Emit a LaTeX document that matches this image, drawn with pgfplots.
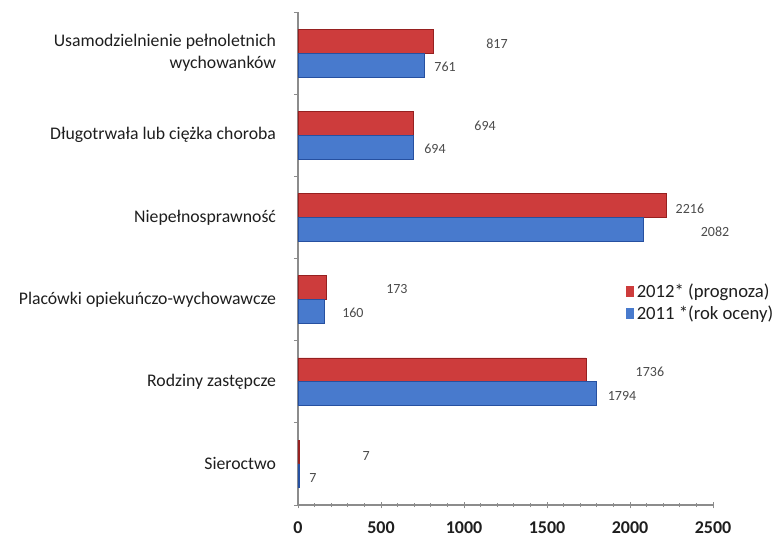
\documentclass[border=0pt]{standalone}
\usepackage{fontspec}
\setmainfont{Carlito}
\usepackage{pgfplots}
\pgfplotsset{compat=1.18}
\definecolor{redmain}{RGB}{205,60,60}
\definecolor{redbot}{RGB}{150,32,32}
\definecolor{bluemain}{RGB}{72,122,205}
\definecolor{bluebot}{RGB}{38,80,160}
\definecolor{txt}{RGB}{30,30,30}
\definecolor{axgray}{RGB}{140,140,140}
\begin{document}
\begin{tikzpicture}
\begin{axis}[
  at={(0,0)}, anchor=south west,
  scale only axis, clip=false,
  width=311.25pt, height=369.75pt,
  xmin=0, xmax=2500,
  ymin=-0.5, ymax=5.5,
  axis x line*=bottom, axis y line*=left,
  axis line style={axgray, line width=0.8pt, -},
  xtick={0,500,1000,1500,2000,2500},
  minor x tick num=4,
  xtick align=center,
  major tick length=5pt, minor tick length=3pt,
  tick style={axgray, line width=0.6pt},
  ytick={0,1,2,3,4,5},
  yticklabels={Sieroctwo, Rodziny zastępcze, Placówki opiekuńczo-wychowawcze, Niepełnosprawność, Długotrwała lub ciężka choroba, {Usamodzielnienie pełnoletnich\\wychowanków}},
  minor ytick={-0.5,0.5,1.5,2.5,3.5,4.5,5.5},
  ytick style={draw=none},
  minor y tick style={draw=axgray},
  ytick align=outside,
  yticklabel style={align=right, font=\fontsize{13.3}{16.5}\selectfont, text=txt, xshift=-8pt},
  xticklabel style={font=\bfseries\fontsize{13.5}{16}\selectfont, text=txt, yshift=-8.5pt, inner ysep=1pt},
  /pgf/number format/assume math mode=true,
  /pgf/number format/1000 sep={},
  legend style={at={(0.79,0.455)}, anchor=north west, draw=none, fill=none,
    font=\fontsize{14}{16}\selectfont, text=txt, row sep=1pt,
    legend cell align=left, inner sep=0pt},
  legend image code/.code={\draw[#1, draw=none] (0pt,-4pt) rectangle (6pt,4pt);},
]
\addplot[xbar, bar width=0.29, bar shift=0.145, draw=redbot, line width=0.4pt, fill=redmain]
  coordinates {(7,0) (1736,1) (173,2) (2216,3) (694,4) (817,5)};
\addlegendentry{2012* (prognoza)}
\addplot[xbar, bar width=0.29, bar shift=-0.145, draw=bluebot, line width=0.4pt, fill=bluemain]
  coordinates {(7,0) (1794,1) (160,2) (2082,3) (694,4) (761,5)};
\addlegendentry{2011 *(rok oceny)}
\begin{scope}[every node/.style={font=\fontsize{10.5}{12}\selectfont, text=txt!80}]
\node at (axis cs:1199,5.11) {817};
\node at (axis cs:886,4.83) {761};
\node at (axis cs:1127,4.11) {694};
\node at (axis cs:825,3.83) {694};
\node at (axis cs:2361,3.10) {2216};
\node at (axis cs:2512,2.83) {2082};
\node at (axis cs:596,2.13) {173};
\node at (axis cs:331,1.84) {160};
\node at (axis cs:2120,1.12) {1736};
\node at (axis cs:1952,0.83) {1794};
\node at (axis cs:410,0.10) {7};
\node at (axis cs:90,-0.17) {7};
\end{scope}
\end{axis}
\pgfresetboundingbox
\path[use as bounding box] (-223.5pt,-27.75pt) rectangle (359.25pt,378.75pt);
\end{tikzpicture}
\end{document}
